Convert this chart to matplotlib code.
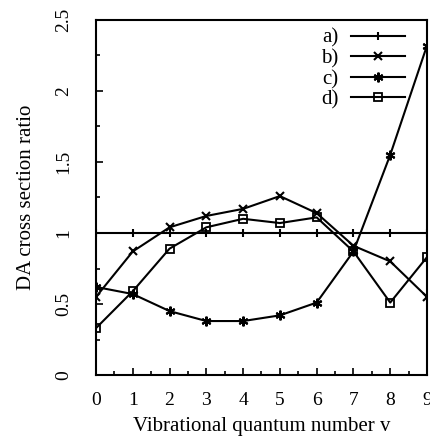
import matplotlib
matplotlib.use("Agg")
import matplotlib.pyplot as plt
from matplotlib.ticker import MultipleLocator

# vibrational quantum numbers
v = [0, 1, 2, 3, 4, 5, 6, 7, 8, 9]

# DA cross section ratios
ratio_a = [1, 1, 1, 1, 1, 1, 1, 1, 1, 1]
ratio_b = [0.55, 0.87, 1.04, 1.12, 1.17, 1.26, 1.14, 0.91, 0.80, 0.55]
ratio_c = [0.62, 0.57, 0.45, 0.38, 0.38, 0.42, 0.51, 0.87, 1.55, 2.32]
ratio_d = [0.33, 0.59, 0.89, 1.04, 1.10, 1.07, 1.11, 0.87, 0.51, 0.83]

labels = ["a)", "b)", "c)", "d)"]

plt.rcParams["font.family"] = ["Liberation Serif", "DejaVu Serif"]

fig = plt.figure(figsize=(4.31, 4.41), dpi=100)
ax = fig.add_axes([96 / 431, 66 / 441, 331 / 431, 355 / 441])

lw = 1.5
ax.plot(v, ratio_a, color="black", lw=lw, marker="|", ms=6, mew=1.5, label=labels[0])
ax.plot(v, ratio_b, color="black", lw=lw, marker="x", ms=6, mew=1.5, label=labels[1])
ax.plot(v, ratio_c, color="black", lw=lw, marker=(6, 2, 0), ms=7, mew=1.5, label=labels[2])
ax.plot(v, ratio_d, color="black", lw=lw, marker="s", ms=5.5, mew=1.3, mfc="none", label=labels[3])

ax.set_xlim(0, 9)
ax.set_ylim(0, 2.5)
ax.xaxis.set_major_locator(MultipleLocator(1))
ax.xaxis.set_minor_locator(MultipleLocator(0.5))
ax.yaxis.set_major_locator(MultipleLocator(0.5))
ax.yaxis.set_minor_locator(MultipleLocator(0.25))
ax.set_yticks([0, 0.5, 1, 1.5, 2, 2.5])
ax.set_yticklabels(["0", "0.5", "1", "1.5", "2", "2.5"], rotation=90, va="center")

ax.tick_params(which="both", direction="in", top=False, right=False, labelsize=14, width=1.2)
ax.tick_params(which="major", length=5)
ax.tick_params(which="minor", length=3)
ax.tick_params(axis="x", which="major", pad=12)
ax.tick_params(axis="y", which="major", pad=17)
for s in ax.spines.values():
    s.set_linewidth(1.5)

ax.set_xlabel("Vibrational quantum number v", fontsize=15, labelpad=6)
ax.set_ylabel("DA cross section ratio", fontsize=15, labelpad=14)

leg = ax.legend(loc="upper right", bbox_to_anchor=(0.96, 1.0), frameon=False,
                fontsize=15, markerfirst=False, handlelength=2.6, labelspacing=0.05,
                handletextpad=0.6, borderaxespad=0)
for t in leg.get_texts():
    t.set_ha("right")

fig.savefig("out.png", dpi=100)
